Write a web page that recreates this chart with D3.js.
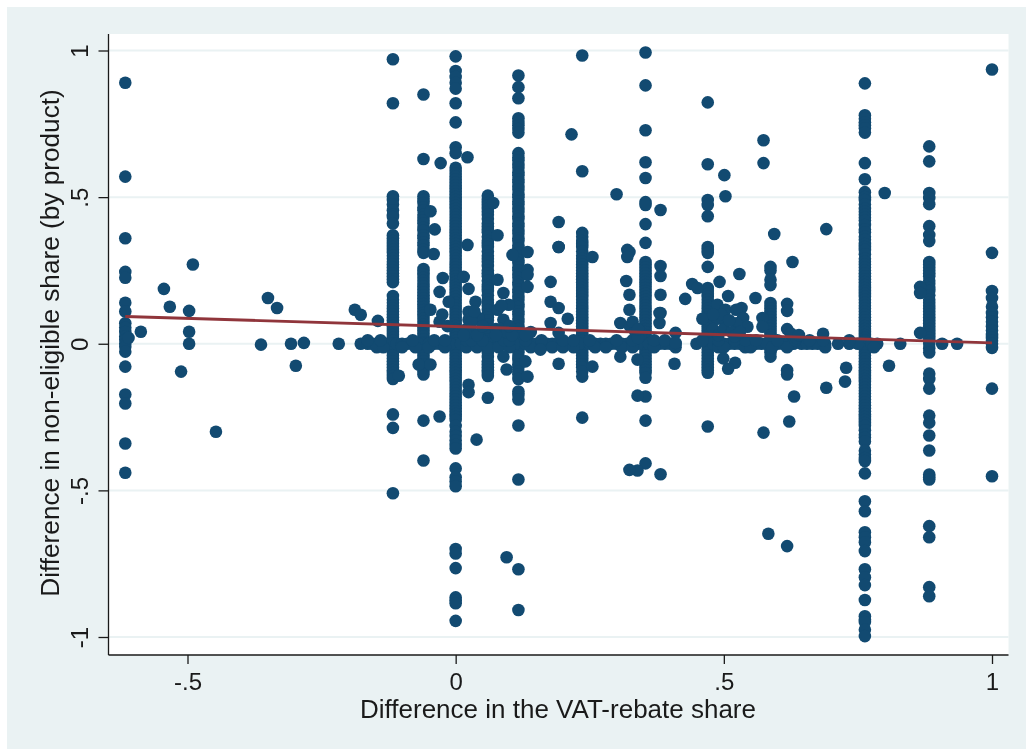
<!DOCTYPE html>
<html><head><meta charset="utf-8">
<script src="https://cdn.jsdelivr.net/npm/d3@7"></script>
<style>html,body{margin:0;padding:0;background:#fff;overflow:hidden}svg{display:block;filter:blur(.35px)}</style>
</head><body><svg id="c" width="1026" height="749"></svg>
<script>
// stripes: x value and the y values read along each vertical column
const colM62X=-.616, colM62=[.89,.57,.36,.245,.225,.14,.11,.07,.055,.04,.025,.014,0,-.01,-.027,-.078,-.173,-.204,-.34,-.44];
const colM12X=-.117, colM12=[.97,.82,.503,.49,.475,.455,.44,.432,.41,.37,.36,.35,.34,.33,.32,.31,.3,.29,.28,.27,.26,.25,.24,.23,.22,.21,.163,.15,.14,.13,.12,.11,.1,.09,.08,.07,.06,.05,.04,.03,.02,.01,0,-.01,-.02,-.03,-.04,-.05,-.06,-.07,-.08,-.09,-.1,-.11,-.12,-.241,-.287,-.51];
const colM06X=-.06, colM06=[.85,.63,.503,.49,.48,.465,.455,.44,.43,.42,.41,.395,.385,.37,.36,.345,.335,.32,.31,.255,.245,.235,.225,.215,.205,.195,.185,.175,.165,.155,.145,.135,.125,.115,.105,.095,.085,.075,.065,.055,.045,.035,.025,.015,.005,0,-.01,-.02,-.03,-.04,-.05,-.06,-.07,-.085,-.095,-.105,-.262,-.398];
const col00X=0, col00=[.98,.93,.91,.89,.87,.82,.755,.67,.65,.6,.59,.58,.57,.56,.55,.54,.53,.52,.51,.5,.49,.48,.47,.46,.45,.44,.43,.42,.41,.4,.39,.38,.37,.36,.35,.34,.33,.32,.31,.3,.29,.28,.27,.26,.25,.24,.23,.22,.21,.2,.19,.18,.17,.16,.15,.14,.13,.12,.11,.1,.09,.08,.07,.06,.05,.04,.03,.02,.01,0,-.01,-.02,-.03,-.04,-.05,-.06,-.07,-.08,-.09,-.1,-.11,-.12,-.13,-.14,-.15,-.16,-.17,-.18,-.19,-.2,-.21,-.22,-.23,-.24,-.25,-.26,-.28,-.3,-.315,-.33,-.345,-.357,-.425,-.455,-.47,-.486,-.70,-.715,-.765,-.865,-.875,-.885,-.945];
const col06X=.06, col06=[.505,.49,.48,.47,.46,.45,.44,.425,.41,.4,.39,.38,.365,.35,.34,.33,.315,.3,.29,.28,.265,.25,.24,.23,.215,.2,.19,.18,.165,.15,.14,.13,.115,.1,.09,.08,.065,.05,.04,.03,.015,0,-.01,-.02,-.03,-.045,-.06,-.07,-.08,-.09,-.1,-.11,-.184];
const col12X=.117, col12=[.915,.875,.837,.769,.757,.745,.732,.72,.65,.635,.625,.61,.6,.585,.575,.56,.55,.535,.525,.51,.5,.485,.475,.46,.45,.435,.425,.41,.4,.385,.375,.36,.35,.335,.325,.31,.3,.285,.275,.26,.25,.235,.225,.21,.2,.185,.175,.16,.15,.135,.125,.11,.1,.085,.075,.06,.05,.035,.025,.01,0,-.01,-.02,-.03,-.045,-.055,-.07,-.08,-.095,-.105,-.12,-.163,-.175,-.19,-.279,-.463,-.769,-.908];
const col24X=.236, col24=[.983,.588,.378,.365,.35,.34,.33,.315,.3,.29,.28,.27,.26,.25,.24,.23,.22,.21,.2,.19,.18,.17,.16,.15,.14,.13,.12,.11,.1,.09,.08,.07,.06,.05,.04,.03,.02,.01,0,-.01,-.02,-.03,-.04,-.05,-.06,-.07,-.08,-.095,-.112,-.252];
const col35X=.354, col35=[.993,.881,.728,.619,.565,.483,.473,.408,.344,.279,.27,.26,.25,.24,.23,.22,.21,.2,.19,.18,.17,.16,.15,.14,.13,.12,.11,.1,.09,.08,.07,.06,.05,.04,.03,.02,.01,0,-.01,-.02,-.03,-.04,-.05,-.06,-.07,-.08,-.09,-.1,-.116,-.18,-.262,-.408];
const col47X=.47, col47=[.823,.612,.49,.473,.435,.33,.32,.31,.262,.19,.18,.17,.16,.15,.14,.13,.12,.11,.1,.09,.08,.07,.06,.05,.04,.03,.02,.01,0,-.01,-.02,-.03,-.04,-.05,-.06,-.07,-.08,-.09,-.099,-.282];
const col59X=.587, col59=[.262,.25,.218,.2,.139,.13,.12,.11,.1,.09,.08,.07,.06,.05,.04,.03,.02,.01,0,-.01,-.02,-.03,-.044];
const col76X=.763, col76=[.888,.779,.767,.755,.745,.735,.72,.616,.561,.517,.5,.49,.475,.46,.45,.44,.43,.42,.405,.39,.38,.365,.355,.34,.33,.32,.305,.29,.28,.27,.26,.25,.24,.23,.22,.21,.2,.19,.18,.17,.16,.15,.14,.13,.12,.11,.1,.09,.08,.07,.06,.05,.04,.03,.02,.01,0,-.01,-.02,-.03,-.04,-.05,-.06,-.07,-.08,-.09,-.1,-.11,-.12,-.13,-.14,-.15,-.16,-.17,-.18,-.19,-.2,-.21,-.22,-.23,-.24,-.25,-.26,-.27,-.28,-.295,-.31,-.32,-.333,-.365,-.378,-.39,-.40,-.442,-.537,-.571,-.643,-.66,-.677,-.707,-.769,-.796,-.823,-.874,-.929,-.94,-.949,-.975,-.997];
const col88X=.883, col88=[.673,.622,.514,.497,.476,.401,.371,.35,.279,.27,.26,.25,.24,.23,.215,.205,.19,.18,.165,.15,.14,.13,.12,.11,.1,.09,.08,.07,.06,.05,.04,.03,.02,.01,0,-.015,-.03,-.102,-.12,-.153,-.245,-.269,-.313,-.364,-.446,-.455,-.463,-.622,-.66,-.83,-.861];
const col100X=1, col100=[.935,.31,.18,.156,.126,.105,.09,.075,.06,.045,.03,.02,.01,0,-.014,-.153,-.452];
// the dense run of points lying on y = 0
const bandX=[-.177,-.164,-.155,-.147,-.136,-.13,-.12,-.11,-.1,-.09,-.08,-.07,-.05,-.04,-.03,-.02,-.01,.01,.02,.03,.04,.05,.07,.08,.09,.1,.11,.13,.14,.15,.16,.17,.18,.19,.2,.21,.22,.23,.25,.26,.27,.28,.29,.3,.31,.32,.33,.34,.36,.37,.38,.39,.4,.41,.449,.48,.49,.5,.51,.52,.53,.54,.55,.56,.57,.58,.6,.61,.62,.63,.645,.655,.665,.675,.689,.713,.734,.75,.775,.786,.829,.907,.935];
const bandLowX=[-.147,-.135,-.1,-.075,-.05,-.02,.02,.04,.06,.08,.1,.14,.16,.18,.2,.22,.26,.28,.31,.33,.37,.41,.49,.5,.54,.55,.59,.618,.689,.78];
const bandHighX=[-.164,-.14,-.08,-.04,-.02,.02,.03,.05,.09,.1,.13,.16,.2,.22,.25,.3,.33,.37,.39,.46,.49,.52,.54,.56,.6,.633,.66,.685,.734];
// scattered points away from the stripes
const looseX=[-.61,-.587,-.544,-.533,-.49,-.497,-.497,-.497,-.512,-.447,-.363,-.35,-.333,-.307,-.283,-.298,-.218,-.188,-.177,-.145,-.106,-.028,-.047,-.039,-.041,-.047,-.03,-.069,-.047,-.03,.022,.039,.022,-.024,.015,.024,-.03,-.013,.037,.024,.024,.043,.078,.089,.078,.089,.099,.106,.134,.134,.134,.134,.177,.192,.177,.192,.209,.177,.192,.089,.095,.134,.13,.158,.192,.024,.024,.07,.078,.095,.216,.192,.192,.255,.255,.30,.382,.382,.382,.382,.382,.324,.318,.324,.324,.307,.38,.38,.41,.41,.428,.408,.307,.339,.339,.339,.324,.382,.501,.503,.32,.32,.529,.492,.441,.451,.508,.559,.533,.488,.503,.523,.536,.544,.46,.488,.503,.523,.499,.521,.508,.572,.572,.574,.574,.594,.618,.618,.618,.618,.618,.631,.622,.574,.628,.691,.685,.728,.726,.691,.80,.808,.583,.618,.866,.866,.866,
 -.025,-.015,.02,.03,.03,.04,.05,.015,.035,.075,.085,.095,.105,.085,.075,.1,.14,.13,.325,.335,.345,.33,.34,.34,.48,.49,.5,.515,.525,.495,.51,.48,.52,.53,.635,.625,.64];
const looseY=[.02,.041,.187,.126,.27,.112,.041,0,-.095,-.30,-.003,.156,.122,0,.003,-.075,0,.116,.099,.078,-.109,.616,.452,.39,.306,.116,.075,-.071,-.071,-.248,.636,-.327,.337,.224,.228,.187,.177,.143,.143,.109,.082,.088,.218,.173,.116,.082,.133,.303,.313,.252,.235,.194,.211,.33,.143,.122,.085,.071,.037,-.044,-.088,-.112,-.06,-.02,-.068,-.14,-.165,.48,.37,-.728,.714,.415,.33,.296,-.078,.51,.456,.265,.231,.167,.105,.313,.214,.167,.116,.071,.105,.071,.037,.003,.153,-.068,-.044,-.054,-.177,-.432,-.43,-.445,.575,.503,.32,.296,.238,.211,.204,.19,.163,.156,.122,.133,.116,.116,.088,.058,.085,.085,.075,.07,-.05,-.065,-.085,.088,.058,.694,.616,.374,.136,.112,.05,-.09,-.105,-.18,-.265,-.303,.279,.391,.034,-.082,-.129,-.15,.514,-.075,-.648,-.69,.194,.173,.037,
 .1,.06,.05,.075,.04,.03,.06,.03,.11,.05,.05,.04,.03,.13,.03,.06,.04,.03,.06,.04,.03,.075,.02,.05,.05,.03,.05,.04,.03,.1,.08,.1,.025,.04,.02,.035,.03];
const fitX=[-.616,1], fitY=[.093,.003];
const xTicks=[-.5,0,.5,1], xTickText=["-.5","0",".5","1"];
const yTicks=[-1,-.5,0,.5,1], yTickText=["-1","-.5","0",".5","1"];
const xTitle="Difference in the VAT-rebate share", yTitle="Difference in non-eligible share (by product)";

const navy="#124a71", maroon="#90353b", bg="#eaf2f3", ink="#1a1a1a";
const L=108.5,R=1008.5,T=34,B=655;
const x=d3.scaleLinear().domain([-.5,1]).range([187.5,992]);
const y=d3.scaleLinear().domain([-1,1]).range([637,50.5]);
const svg=d3.select("#c");
svg.append("rect").attr("x",7).attr("y",7).attr("width",1019).attr("height",742).attr("fill",bg);
svg.append("rect").attr("x",L).attr("y",T).attr("width",R-L).attr("height",B-T).attr("fill","#fff");
svg.append("g").selectAll("line").data(yTicks).join("line")
  .attr("x1",L).attr("x2",R).attr("y1",d=>y(d)).attr("y2",d=>y(d)).attr("stroke",bg).attr("stroke-width",2);

const columns=[[colM62X,colM62],[colM12X,colM12],[colM06X,colM06],[col00X,col00],[col06X,col06],[col12X,col12],[col24X,col24],[col35X,col35],[col47X,col47],[col59X,col59],[col76X,col76],[col88X,col88],[col100X,col100]];
const pts=[];
columns.forEach(([cx,ys])=>ys.forEach(v=>pts.push([cx,v])));
bandX.forEach(v=>pts.push([v,0]));
bandLowX.forEach(v=>pts.push([v,-.012]));
bandHighX.forEach(v=>pts.push([v,.012]));
looseX.forEach((v,i)=>pts.push([v,looseY[i]]));
svg.append("g").selectAll("circle").data(pts).join("circle")
  .attr("cx",d=>x(d[0])).attr("cy",d=>y(d[1])).attr("r",6.3).attr("fill",navy);
const line=d3.line().x(d=>x(d[0])).y(d=>y(d[1]));
svg.append("path").attr("d",line(fitX.map((v,i)=>[v,fitY[i]]))).attr("fill","none").attr("stroke",maroon).attr("stroke-width",2.8);

const xa=svg.append("g").attr("transform",`translate(0,${B})`)
  .call(d3.axisBottom(x).tickValues(xTicks).tickFormat((d,i)=>xTickText[i]).tickSize(9).tickPadding(8.5).tickSizeOuter(0));
const ya=svg.append("g").attr("transform",`translate(${L},0)`)
  .call(d3.axisLeft(y).tickValues(yTicks).tickFormat(d=>yTickText[yTicks.indexOf(d)]).tickSize(10).tickSizeOuter(0));
xa.select(".domain").attr("d",`M${L},0H${R}`);
ya.select(".domain").attr("d",`M0,${T}V${B}`);
[xa,ya].forEach(g=>{g.selectAll("path,line").attr("stroke",ink).attr("stroke-width",1.3);
  g.selectAll("text").attr("fill",ink).attr("font-family","'Liberation Sans',Arial,sans-serif").attr("font-size",24);});
ya.selectAll(".tick text").attr("text-anchor","middle").attr("dy",0).attr("x",0).attr("y",0)
  .attr("transform","translate(-20.5,0) rotate(-90)");
svg.append("text").attr("x",558).attr("y",718).attr("text-anchor","middle").attr("font-family","'Liberation Sans',Arial,sans-serif").attr("font-size",26).attr("fill",ink).text(xTitle);
svg.append("text").attr("transform","translate(59,343) rotate(-90)").attr("text-anchor","middle").attr("font-family","'Liberation Sans',Arial,sans-serif").attr("font-size",26.2).attr("fill",ink).text(yTitle);
</script></body></html>
